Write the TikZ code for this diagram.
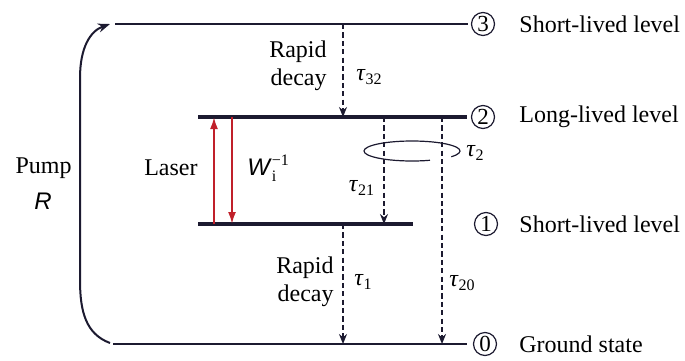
\documentclass[tikz,border=0pt]{standalone}
\usepackage{amsmath}
\usepackage{fontspec}
\setmainfont{Liberation Serif}
\setsansfont{Liberation Sans}
\usepackage{tikz}
\usetikzlibrary{arrows.meta,positioning,calc}
\definecolor{levelnavy}{RGB}{28,26,48}
\definecolor{laserred}{RGB}{192,32,42}

\begin{document}
\begin{tikzpicture}[x=0.5pt,y=-0.5pt,font=\fontsize{12}{14}\selectfont,
    level/.style={draw=levelnavy,line width=1.3pt},
    mainlevel/.style={draw=levelnavy,line width=2.2pt},
    decay/.style={draw=levelnavy,line width=1pt,dash pattern=on 2.6pt off 1.6pt,
      -{Stealth[length=5pt,width=4pt]}},
    laser/.style={draw=laserred,line width=1pt,-{Latex[length=6pt,width=4pt]}},
    pump/.style={draw=levelnavy,line width=1pt,-{Stealth[length=6pt,width=4.5pt]}},
    lvlnum/.style={circle,draw=levelnavy,line width=0.6pt,minimum size=11.5pt,inner sep=0pt,
      font=\fontsize{11.5}{12}\selectfont},
    lvltext/.style={anchor=west,inner sep=0pt}]
  \useasboundingbox (0,0) rectangle (685,360);

  % energy levels
  \coordinate (l3w) at (115,24);  \coordinate (l3e) at (468,24);
  \coordinate (l2w) at (198,117); \coordinate (l2e) at (467,117);
  \coordinate (l1w) at (198,224); \coordinate (l1e) at (413,224);
  \coordinate (l0w) at (113,344); \coordinate (l0e) at (467,344);
  \draw[level] (l3w) -- (l3e);
  \draw[mainlevel] (l2w) -- (l2e);
  \draw[mainlevel] (l1w) -- (l1e);
  \draw[level] (l0w) -- (l0e);

  \node[lvlnum] (n3) at (483,24) {3};
  \node[lvlnum] (n2) at (483,117) {2};
  \node[lvlnum] (n1) at (486,224) {1};
  \node[lvlnum] (n0) at (485,344) {0};
  \node[lvltext] (t3) at (519,24) {Short-lived level};
  \node[lvltext] (t2) at (519,117) {Long-lived level};
  \node[lvltext] (t1) at (519,224) {Short-lived level};
  \node[lvltext] (t0) at (519,344) {Ground state};

  % pump
  \coordinate (pumpin) at (110,343);
  \coordinate (pumpout) at (110,24);
  \draw[pump] (pumpin) .. controls (86,334) and (80,312) .. (80,280)
    -- (80,78) .. controls (80,48) and (90,31) .. (pumpout);
  \node[anchor=east,inner sep=0pt] (pumplbl) at (72,168) {Pump};
  \node[inner sep=0pt] (pumprate) at (43,201) {\sffamily\itshape R};

  % laser transition
  \coordinate (upfrom) at (214,224); \coordinate (upto) at (214,117);
  \coordinate (dnfrom) at (232,117); \coordinate (dnto) at (232,224);
  \draw[laser] (upfrom) -- (upto);
  \draw[laser] (dnfrom) -- (dnto);
  \node[anchor=east,inner sep=0pt] (laserlbl) at (198,168) {Laser};
  \node[anchor=west,inner sep=0pt] (wlbl) at (247,168)
    {$\textsf{\textit{W}}_{\textrm{i}}^{\textrm{−1}}$};

  % decays
  \coordinate (d32a) at (343,24);  \coordinate (d32b) at (343,117);
  \coordinate (d21a) at (384,117); \coordinate (d21b) at (384,224);
  \coordinate (d20a) at (442,117); \coordinate (d20b) at (442,344);
  \coordinate (d10a) at (343,224); \coordinate (d10b) at (343,344);
  \draw[decay] (d32a) -- (d32b);
  \draw[decay] (d21a) -- (d21b);
  \draw[decay] (d20a) -- (d20b);
  \draw[decay] (d10a) -- (d10b);

  \node[anchor=east,align=right,inner sep=0pt] (rapid3) at (327,66) {Rapid\\decay};
  \node[anchor=east,align=right,inner sep=0pt] (rapid1) at (334,282) {Rapid\\decay};
  \node[anchor=west,inner sep=0pt] (tau32) at (356,77) {\textit{τ}\textsubscript{32}};
  \node[inner sep=0pt] (tau21) at (362,188) {\textit{τ}\textsubscript{21}};
  \node[anchor=west,inner sep=0pt] (tau20) at (449,283) {\textit{τ}\textsubscript{20}};
  \node[anchor=west,inner sep=0pt] (tau1) at (354,282) {\textit{τ}\textsubscript{1}};

  % lifetime of level 2
  \coordinate (ring) at (412,151);
  \draw[levelnavy,line width=0.6pt] (ring) ++(-35:24pt and 5pt)
    arc[start angle=-35,end angle=292,x radius=24pt,y radius=5pt];
  \node[anchor=west,inner sep=0pt] (tau2) at (466,153) {\textit{τ}\textsubscript{2}};
\end{tikzpicture}
\end{document}
